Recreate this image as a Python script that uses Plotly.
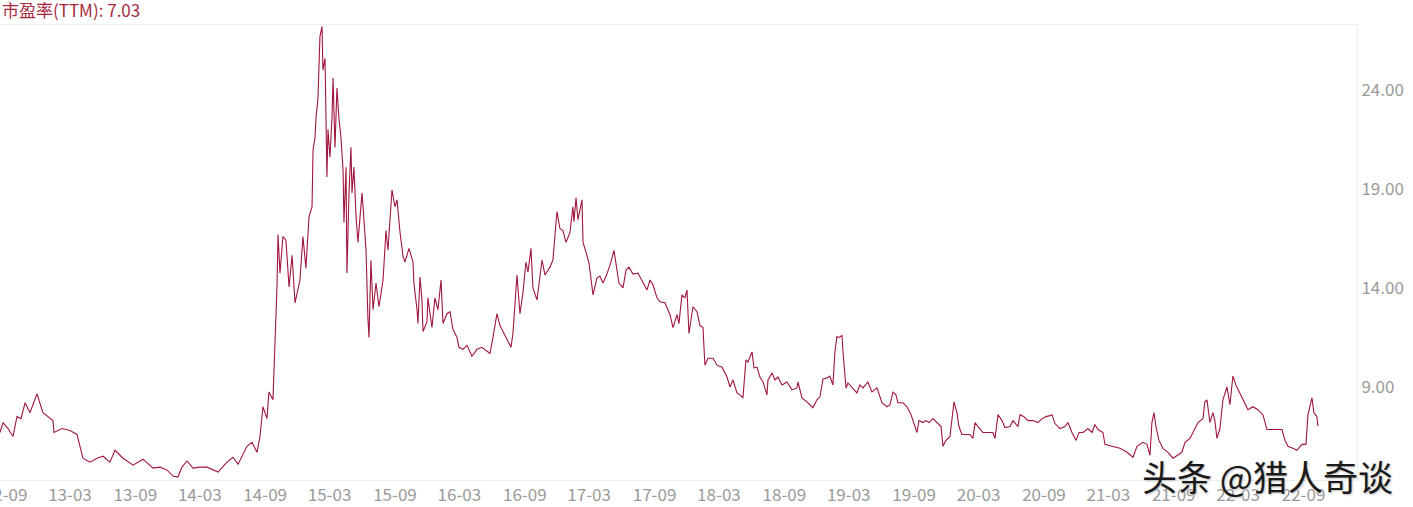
import plotly.graph_objects as go

# (decimal year, PE TTM)
seg_2012_2014 = [
    (2012.661, 6.7), (2012.684, 7.2), (2012.723, 6.9), (2012.761, 6.5), (2012.792, 7.5),
    (2012.823, 7.4), (2012.854, 8.2), (2012.892, 7.7), (2012.915, 8.1), (2012.946, 8.65),
    (2012.992, 7.7), (2013.031, 7.5), (2013.069, 7.3), (2013.077, 6.7), (2013.139, 6.9),
    (2013.200, 6.8), (2013.254, 6.6), (2013.300, 5.4), (2013.354, 5.2), (2013.408, 5.4),
    (2013.455, 5.5), (2013.508, 5.2), (2013.547, 5.8), (2013.609, 5.4), (2013.686, 5.05),
    (2013.763, 5.35), (2013.840, 4.9), (2013.894, 4.95), (2013.948, 4.8), (2013.994, 4.5),
    (2014.032, 4.45), (2014.063, 4.95), (2014.102, 5.26), (2014.148, 4.9), (2014.202, 4.95),
    (2014.256, 4.95), (2014.294, 4.85), (2014.341, 4.7), (2014.410, 5.2), (2014.456, 5.45),
    (2014.495, 5.1), (2014.564, 6.0), (2014.603, 6.2), (2014.641, 5.7), (2014.664, 6.5),
    (2014.687, 8.0), (2014.718, 7.4), (2014.733, 8.75), (2014.764, 8.35), (2014.780, 11.0),
]

seg_2014_2016 = [
    (2014.795, 14.05), (2014.803, 16.7), (2014.818, 14.75), (2014.841, 16.6), (2014.864, 16.4),
    (2014.888, 14.05), (2014.911, 15.65), (2014.934, 13.25), (2014.957, 14.05), (2014.972, 14.4),
    (2014.995, 16.6), (2015.018, 15.0), (2015.042, 17.6), (2015.065, 18.1), (2015.073, 20.97),
    (2015.088, 21.6), (2015.096, 22.6), (2015.111, 23.6), (2015.126, 26.7), (2015.142, 27.2),
    (2015.149, 25.0), (2015.165, 25.6), (2015.180, 19.6), (2015.188, 22.0), (2015.203, 20.6),
    (2015.219, 22.6), (2015.227, 24.6), (2015.242, 21.1), (2015.257, 24.1), (2015.273, 22.5),
    (2015.288, 21.6), (2015.304, 19.96), (2015.311, 17.3), (2015.327, 20.1), (2015.334, 14.75),
    (2015.350, 18.8), (2015.365, 21.1), (2015.373, 18.8), (2015.388, 20.1), (2015.404, 17.6),
    (2015.419, 16.3), (2015.435, 17.6), (2015.450, 18.8), (2015.458, 18.1), (2015.481, 15.9),
    (2015.496, 12.4), (2015.504, 11.5), (2015.519, 15.4), (2015.535, 12.9), (2015.558, 14.25),
    (2015.581, 13.05), (2015.612, 14.4), (2015.635, 16.9), (2015.650, 15.9), (2015.681, 18.95),
    (2015.704, 18.1), (2015.720, 18.45), (2015.743, 16.8), (2015.766, 15.6), (2015.781, 15.3),
    (2015.812, 16.0), (2015.843, 15.3), (2015.850, 14.25), (2015.874, 12.9), (2015.881, 12.2),
    (2015.897, 14.55), (2015.912, 13.4), (2015.920, 11.8), (2015.951, 12.3), (2015.958, 13.5),
    (2015.989, 12.0),
]

seg_2016_2018 = [
    (2016.012, 13.5), (2016.035, 12.9), (2016.059, 14.4), (2016.074, 12.2), (2016.105, 12.7),
    (2016.128, 12.8), (2016.151, 11.9), (2016.182, 11.5), (2016.197, 11.0), (2016.228, 10.9),
    (2016.259, 11.1), (2016.297, 10.55), (2016.336, 10.9), (2016.374, 11.0), (2016.413, 10.8),
    (2016.436, 10.7), (2016.459, 11.5), (2016.490, 12.7), (2016.513, 12.1), (2016.536, 11.8),
    (2016.567, 11.4), (2016.598, 11.0), (2016.613, 11.7), (2016.629, 13.0), (2016.644, 14.65),
    (2016.667, 12.7), (2016.690, 13.75), (2016.713, 15.3), (2016.729, 14.8), (2016.752, 16.0),
    (2016.767, 14.0), (2016.798, 13.4), (2016.837, 15.4), (2016.860, 14.65), (2016.898, 15.05),
    (2016.921, 15.4), (2016.952, 17.85), (2016.975, 17.0), (2016.998, 16.9), (2017.022, 16.3),
    (2017.052, 16.8), (2017.075, 18.1), (2017.083, 17.35), (2017.099, 18.55), (2017.114, 17.45),
    (2017.145, 18.45), (2017.153, 16.3), (2017.176, 15.8), (2017.199, 15.25), (2017.230, 13.65),
    (2017.260, 14.5), (2017.283, 14.6), (2017.307, 14.25), (2017.337, 14.7), (2017.368, 15.3),
    (2017.391, 15.9), (2017.414, 15.05), (2017.430, 14.25), (2017.461, 14.0), (2017.484, 14.9),
    (2017.507, 15.05), (2017.538, 14.7), (2017.576, 14.75), (2017.607, 14.4), (2017.646, 13.9),
    (2017.669, 14.4), (2017.692, 14.15), (2017.723, 13.5), (2017.746, 13.3), (2017.784, 13.25),
    (2017.823, 12.65), (2017.846, 12.0), (2017.877, 12.65), (2017.892, 12.2), (2017.915, 13.65),
    (2017.938, 13.5), (2017.954, 13.9), (2017.969, 11.7),
]

seg_2018_2020 = [
    (2018.000, 13.05), (2018.031, 12.8), (2018.054, 12.1), (2018.077, 12.0), (2018.092, 10.1),
    (2018.116, 10.45), (2018.154, 10.45), (2018.185, 10.1), (2018.224, 10.0), (2018.262, 9.5),
    (2018.285, 9.0), (2018.308, 9.35), (2018.339, 8.7), (2018.362, 8.6), (2018.385, 8.45),
    (2018.408, 10.36), (2018.424, 10.26), (2018.455, 10.77), (2018.470, 9.96), (2018.493, 10.0),
    (2018.516, 9.5), (2018.540, 9.25), (2018.570, 8.6), (2018.578, 9.35), (2018.609, 9.7),
    (2018.632, 9.35), (2018.655, 9.5), (2018.686, 9.1), (2018.724, 9.25), (2018.763, 8.85),
    (2018.801, 8.95), (2018.809, 9.25), (2018.840, 8.45), (2018.878, 8.25), (2018.901, 8.1),
    (2018.924, 7.95), (2018.955, 8.35), (2018.978, 8.5), (2019.002, 9.4), (2019.032, 9.45),
    (2019.055, 9.55), (2019.078, 9.1), (2019.094, 10.8), (2019.109, 11.55), (2019.125, 11.5),
    (2019.148, 11.6), (2019.155, 10.87), (2019.179, 8.95), (2019.194, 9.2), (2019.225, 8.95),
    (2019.263, 8.7), (2019.286, 9.1), (2019.310, 8.95), (2019.348, 9.25), (2019.379, 8.75),
    (2019.418, 8.95), (2019.456, 8.2), (2019.494, 8.0), (2019.518, 8.1), (2019.541, 8.75),
    (2019.564, 8.6), (2019.579, 8.2), (2019.618, 8.2), (2019.649, 8.0), (2019.680, 7.6),
    (2019.710, 7.0), (2019.726, 6.7), (2019.741, 7.3), (2019.772, 7.2), (2019.795, 7.3),
    (2019.818, 7.2), (2019.849, 7.4), (2019.880, 7.2), (2019.911, 7.0), (2019.926, 6.0),
    (2019.949, 6.3), (2019.980, 6.5),
]

seg_2020_2022 = [
    (2020.003, 7.95), (2020.011, 8.25), (2020.034, 7.7), (2020.049, 7.0), (2020.072, 6.6),
    (2020.111, 6.6), (2020.134, 6.6), (2020.157, 6.4), (2020.173, 7.2), (2020.196, 7.0),
    (2020.234, 6.7), (2020.273, 6.7), (2020.311, 6.7), (2020.327, 6.4), (2020.350, 7.6),
    (2020.381, 7.3), (2020.404, 6.95), (2020.443, 7.0), (2020.466, 7.3), (2020.504, 7.0),
    (2020.520, 7.6), (2020.550, 7.5), (2020.581, 7.3), (2020.620, 7.3), (2020.658, 7.2),
    (2020.689, 7.4), (2020.720, 7.5), (2020.751, 7.55), (2020.766, 7.6), (2020.789, 7.15),
    (2020.828, 6.9), (2020.866, 7.0), (2020.889, 7.2), (2020.920, 6.7), (2020.951, 6.3),
    (2020.974, 6.7), (2021.005, 6.7), (2021.043, 6.9), (2021.074, 6.7), (2021.097, 7.1),
    (2021.120, 6.85), (2021.159, 6.7), (2021.174, 6.1), (2021.228, 6.0), (2021.290, 5.9),
    (2021.344, 5.7), (2021.390, 5.45), (2021.421, 6.0), (2021.467, 6.2), (2021.498, 6.1),
    (2021.521, 5.55), (2021.536, 7.2), (2021.552, 7.7), (2021.567, 7.0), (2021.590, 6.3),
    (2021.621, 5.9), (2021.660, 5.7), (2021.698, 5.4), (2021.767, 5.7), (2021.791, 6.2),
    (2021.829, 6.4), (2021.868, 6.9), (2021.891, 7.2), (2021.929, 7.4), (2021.944, 8.25),
    (2021.960, 8.35), (2021.983, 7.2), (2022.006, 7.7), (2022.021, 7.3), (2022.037, 6.4),
    (2022.060, 6.9), (2022.083, 8.35), (2022.114, 9.0), (2022.137, 8.1), (2022.160, 9.55),
    (2022.183, 9.1), (2022.214, 8.7), (2022.237, 8.35), (2022.276, 7.85), (2022.314, 8.0),
    (2022.353, 7.85), (2022.391, 7.6), (2022.422, 6.85), (2022.461, 6.85), (2022.499, 6.85),
    (2022.538, 6.85), (2022.561, 6.3), (2022.584, 6.0), (2022.622, 5.9), (2022.653, 5.8),
    (2022.692, 6.1), (2022.723, 6.1), (2022.738, 7.6), (2022.769, 8.45), (2022.784, 7.7),
    (2022.807, 7.5), (2022.815, 7.03),
]

tick_pos = [2012.704, 2013.200, 2013.704, 2014.200, 2014.704, 2015.200, 2015.704,
            2016.200, 2016.704, 2017.200, 2017.704, 2018.200, 2018.704, 2019.200,
            2019.704, 2020.200, 2020.704, 2021.200, 2021.704, 2022.200, 2022.704]
tick_text = ["12-09", "13-03", "13-09", "14-03", "14-09", "15-03", "15-09",
             "16-03", "16-09", "17-03", "17-09", "18-03", "18-09", "19-03",
             "19-09", "20-03", "20-09", "21-03", "21-09", "22-03", "22-09"]
y_ticks = [9, 14, 19, 24]

title_text = "市盈率(TTM): 7.03"
watermark = "头条 @猎人奇谈"

points = seg_2012_2014 + seg_2014_2016 + seg_2016_2018 + seg_2018_2020 + seg_2020_2022
xs = [p[0] for p in points]
ys = [p[1] for p in points]

LINE = "#a0163c"
GRAY = "#9a9a9a"
FONT = "Noto Sans CJK SC"

fig = go.Figure()
fig.add_trace(go.Scatter(x=xs, y=ys, mode="lines",
                         line=dict(color=LINE, width=1.1), hoverinfo="skip",
                         showlegend=False))

fig.update_layout(
    width=1413, height=507,
    margin=dict(l=0, r=56, t=25, b=27, autoexpand=False),
    paper_bgcolor="white", plot_bgcolor="white",
    font=dict(family=FONT, color=GRAY, size=17),
    xaxis=dict(range=[2012.661, 2023.116], tickmode="array", tickvals=tick_pos,
               ticktext=tick_text, showgrid=False, zeroline=False,
               showline=True, mirror=True, linecolor="#eeeeee", linewidth=1,
               ticks="", ticklabeloverflow="allow", automargin=False,
               tickfont=dict(size=17, color=GRAY, family=FONT)),
    yaxis=dict(range=[4.30, 27.28], side="right", tickmode="array", tickvals=y_ticks,
               tickformat=".2f", showgrid=False, zeroline=False, automargin=False,
               showline=True, linecolor="#eeeeee", linewidth=1, ticks="",
               tickfont=dict(size=17, color=GRAY, family=FONT)),
    annotations=[
        dict(text=title_text, xref="paper", yref="paper", x=0, y=1,
             xanchor="left", yanchor="bottom", yshift=1, showarrow=False,
             font=dict(size=17, color="#a82a3f", family=FONT)),
        dict(text=watermark, xref="paper", yref="paper", x=1267 / 1357, y=0,
             xanchor="center", yanchor="middle", yshift=5, showarrow=False,
             font=dict(size=35, color="#1a1a1a", family=FONT,
                       shadow="1px 1px 2px #bbbbbb")),
    ],
)

fig.write_html("out.html", config={"displayModeBar": False},
               post_script="document.body.style.margin='0';")
